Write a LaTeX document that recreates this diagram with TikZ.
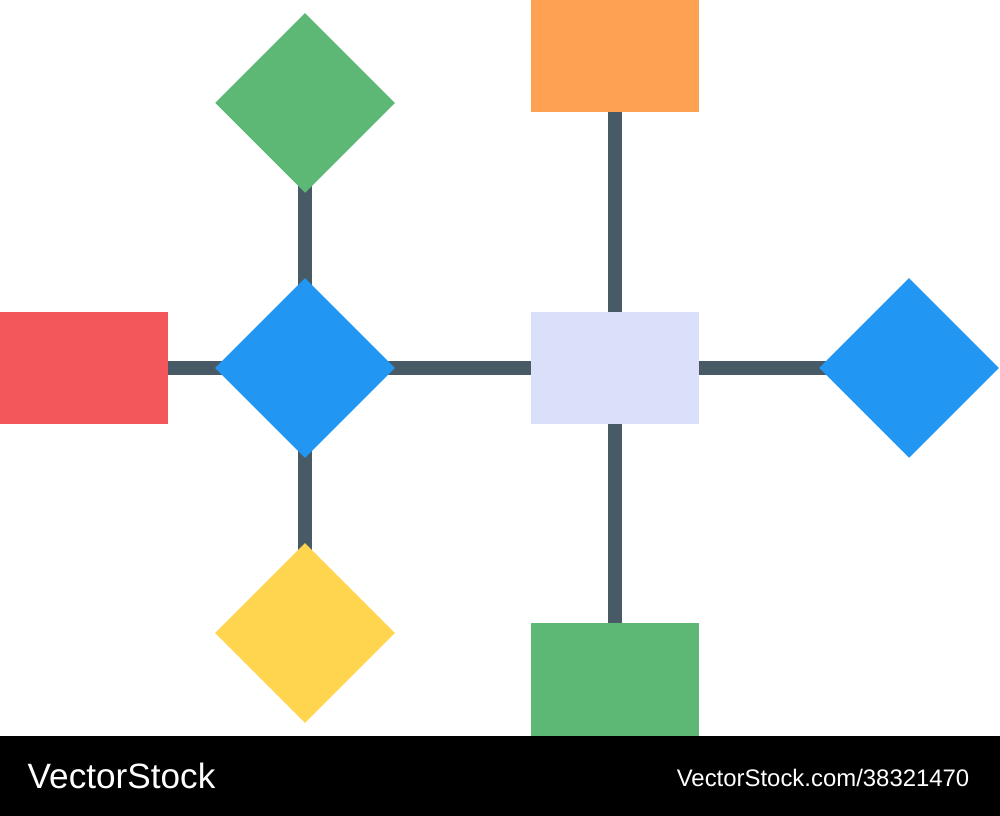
\documentclass[tikz,border=0pt]{standalone}
\usepackage{fontspec}
\setmainfont{Liberation Sans}
\usetikzlibrary{shapes.geometric,backgrounds}
\definecolor{linkgray}{HTML}{475A66}
\definecolor{hubblue}{HTML}{2196F3}
\definecolor{leafgreen}{HTML}{5CB874}
\definecolor{leafyellow}{HTML}{FFD54F}
\definecolor{leaforange}{HTML}{FFA152}
\definecolor{leafred}{HTML}{F4575B}
\definecolor{hublavender}{HTML}{DADFFA}
\tikzset{
  box/.style={rectangle, inner sep=0pt, minimum width=1.68cm, minimum height=1.12cm},
  gem/.style={diamond, inner sep=0pt, minimum width=1.8cm, minimum height=1.8cm},
  link/.style={draw=linkgray, line width=0.14cm}
}

\begin{document}
\begin{tikzpicture}[x=0.01cm, y=-0.01cm]
      \useasboundingbox (0, 0) rectangle (1000, 816);

      \node[box, fill=leafred] (R) at (84, 368) {};
      \node[gem, fill=hubblue] (L) at (305, 368) {};
      \node[gem, fill=leafgreen] (LT) at (305, 103) {};
      \node[gem, fill=leafyellow] (LB) at (305, 633) {};
      \node[box, fill=hublavender] (C) at (615, 368) {};
      \node[box, fill=leaforange] (CT) at (615, 56) {};
      \node[box, fill=leafgreen, minimum height=1.13cm] (CB) at (615, 679.5) {};
      \node[gem, fill=hubblue] (RD) at (909, 368) {};

      \begin{scope}[on background layer]
        \draw[link] (R.center) -- (L.center);
        \draw[link] (L.center) -- (C.center);
        \draw[link] (C.center) -- (RD.center);
        \draw[link] (LT.center) -- (L.center);
        \draw[link] (L.center) -- (LB.center);
        \draw[link] (CT.center) -- (C.center);
        \draw[link] (C.center) -- (CB.center);
      \end{scope}

      \fill[black] (0, 736) rectangle (1000, 816);
      \node[anchor=base west, inner sep=0pt, text=white, font=\fontsize{10}{12}\selectfont] (logo) at (27, 788) {VectorStock};
      \node[anchor=base east, inner sep=0pt, text=white, font=\fontsize{6.8}{8}\selectfont] (ref) at (970, 787) {VectorStock.com/38321470};
\end{tikzpicture}
\end{document}
